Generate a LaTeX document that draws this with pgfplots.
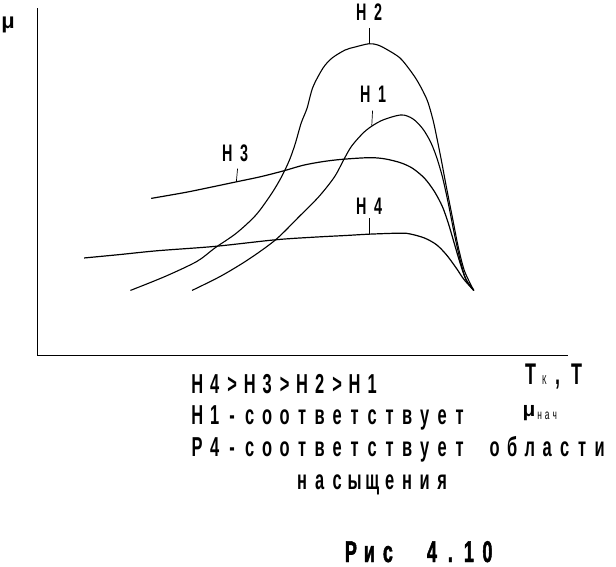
\documentclass[border=0pt]{standalone}
\usepackage{pgfplots}
\pgfplotsset{compat=1.18}
\usepackage{fontspec}
\setmainfont{Liberation Sans}
\newfontfamily\cond{Liberation Sans}[FakeStretch=0.6]
\newfontfamily\condheavy{Liberation Sans}[FakeStretch=0.6,FakeBold=1.5]

% each character in a fixed-width cell (the original is letter-spaced)
\newlength\cellw
\def\spaced#1#2{\setlength\cellw{#1}\spacedi#2\relax}
\def\spacedi#1{\ifx#1\relax\else\makebox[\cellw]{#1}\expandafter\spacedi\fi}

\begin{document}
\begin{tikzpicture}
\useasboundingbox (0,0) rectangle (616bp,567bp);
\begin{axis}[
  at={(37bp,212bp)}, anchor=south west,
  scale only axis,
  width=531bp, height=347bp,
  xmin=92, xmax=1445, ymin=0, ymax=1048,
  axis lines=left,
  axis line style={-, line width=0.9bp},
  xtick=\empty, ytick=\empty,
  clip=false,
]
% H2
\addplot[black, line width=1.1bp, smooth] coordinates {
 (330,195) (420,238) (500,283) (545,323) (600,368) (650,423) (690,488)
 (715,538) (735,588) (750,638) (765,700) (780,745) (795,809) (821,867)
 (844,897) (877,921) (902,930) (938,940) (961,936) (986,921) (1017,897)
 (1042,861) (1063,824) (1086,770) (1101,710) (1111,655) (1122,590)
 (1135,508) (1150,418) (1165,328) (1180,258) (1195,218) (1205,195)};
% H1
\addplot[black, line width=1.1bp, smooth] coordinates {
 (487,195) (560,238) (630,288) (700,348) (760,418) (810,478) (850,538)
 (875,593) (895,633) (930,678) (970,708) (1020,725) (1050,713) (1075,683)
 (1095,643) (1110,598) (1125,538) (1140,458) (1155,368) (1170,288)
 (1185,228) (1205,195)};
% H3
\addplot[black, line width=1.2bp, smooth] coordinates {
 (383,473) (470,491) (540,508) (600,523) (660,538) (720,556) (770,573)
 (820,584) (870,591) (940,596) (980,592) (1020,580) (1050,563) (1080,533)
 (1105,493) (1125,448) (1140,398) (1155,338) (1170,278) (1185,228)
 (1205,195)};
% H4
\addplot[black, line width=1.2bp, smooth] coordinates {
 (212,293) (300,303) (400,315) (545,328) (700,348) (800,356) (880,361)
 (940,365) (1020,368) (1045,365) (1080,353) (1110,333) (1135,303)
 (1160,263) (1180,228) (1205,195)};
% leader lines from the labels
\draw[line width=0.7bp] (axis cs:940,988) -- (axis cs:940,940);
\draw[line width=0.7bp] (axis cs:947,738) -- (axis cs:945,693);
\draw[line width=0.7bp] (axis cs:603,563) -- (axis cs:600,523);
\draw[line width=0.7bp] (axis cs:940,413) -- (axis cs:940,365);
\end{axis}

\tikzset{t/.style={anchor=base west, inner sep=0}}
% curve labels
\node[t] at (352.5bp,546.3bp) {\cond\bfseries\fontsize{24}{28}\selectfont\spaced{17bp}{Н2}};
\node[t] at (356.5bp,464bp)   {\cond\bfseries\fontsize{24}{28}\selectfont\spaced{17bp}{Н1}};
\node[t] at (218.5bp,405.3bp) {\cond\bfseries\fontsize{24}{28}\selectfont\spaced{17bp}{Н3}};
\node[t] at (352.5bp,352bp)   {\cond\bfseries\fontsize{24}{28}\selectfont\spaced{17bp}{Н4}};

% axis names
\node[anchor=base, inner sep=0] at (8bp,538bp) {\bfseries\fontsize{22}{26}\selectfont μ};
\node[anchor=base, inner sep=0] at (530.5bp,182bp) {\cond\bfseries\fontsize{30}{34}\selectfont Т};
\node[anchor=base, inner sep=0] at (544.5bp,182bp) {\cond\fontsize{13}{15}\selectfont К};
\node[anchor=base, inner sep=0] at (557.5bp,182bp) {\cond\bfseries\fontsize{30}{34}\selectfont ,};
\node[anchor=base, inner sep=0] at (576.5bp,182bp) {\cond\bfseries\fontsize{30}{34}\selectfont Т};
\node[anchor=base, inner sep=0] at (529bp,150bp) {\bfseries\fontsize{21}{24}\selectfont μ};
\node[t] at (535.75bp,147bp) {\cond\fontsize{14}{16}\selectfont\spaced{7.5bp}{нач}};

% caption text
\node[t] at (188.25bp,173.7bp) {\cond\bfseries\fontsize{27.5}{32}\selectfont\spaced{17.5bp}{Н4>Н3>Н2>Н1}};
\node[t] at (188.25bp,142bp)   {\cond\bfseries\fontsize{27.5}{32}\selectfont\spaced{17.5bp}{Н1-соответствует}};
\node[t] at (188.25bp,110.3bp) {\cond\bfseries\fontsize{27.5}{32}\selectfont\spaced{17.5bp}{Р4-соответствует~области}};
\node[t] at (293.25bp,77bp)    {\cond\bfseries\fontsize{27.5}{32}\selectfont\spaced{17.5bp}{насыщения}};
\node[t] at (341.5bp,5bp) {\condheavy\bfseries\fontsize{30}{34}\selectfont\spaced{18.5bp}{Рис}\hspace{7bp}\spaced{18.5bp}{~4.10}};
\end{tikzpicture}
\end{document}
